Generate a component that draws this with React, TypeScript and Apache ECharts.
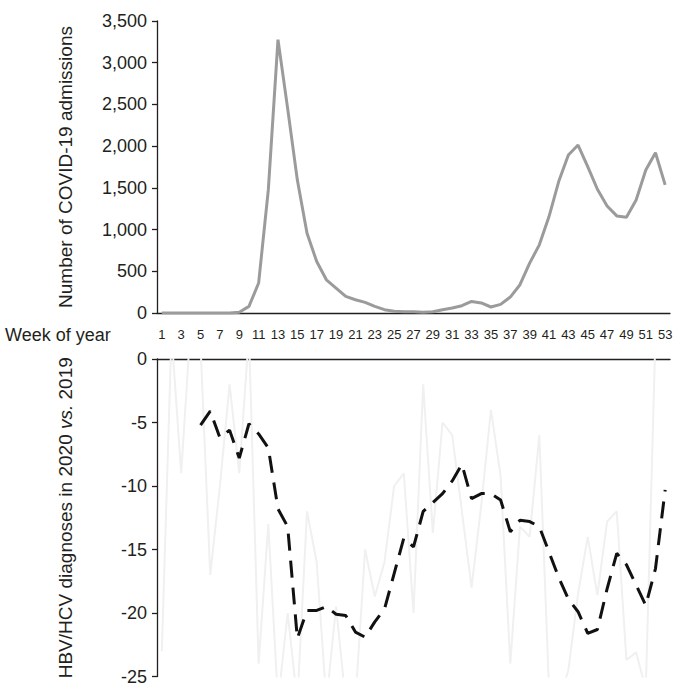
import React, { useEffect, useRef } from "react";
import * as echarts from "echarts";

const weeks = [
  "1","2","3","4","5","6","7","8","9","10","11","12","13","14","15","16","17","18",
  "19","20","21","22","23","24","25","26","27","28","29","30","31","32","33","34","35","36",
  "37","38","39","40","41","42","43","44","45","46","47","48","49","50","51","52","53",
];

const covidAdmissions = [
  0, 0, 0, 0, 0, 0, 0, 0, 10, 79, 359, 1475, 3277, 2450, 1593, 957, 617, 398,
  299, 199, 159, 127, 79, 40, 20, 15, 15, 10, 15, 40, 60, 87, 139, 120, 72, 103,
  191, 339, 598, 817, 1156, 1575, 1894, 2013, 1754, 1483, 1283, 1164, 1148, 1355, 1714, 1921, 1535,
];

const weeklyChange = [
  -23, 2, -9, 3, 1, -17, -10, -2, -9, 2, -24, -13, -27, -20, -27, -12, -16, -27,
  -19.5, -27, -27, -15, -18.7, -16, -10, -9, -20, -2, -13.7, -5, -6, -12, -18, -11.5, -4, -9.2,
  -24, -13.2, -14, -6, -26, -27, -24.5, -18.5, -14, -18.6, -12.8, -12, -23.7, -23.1, -26, 2, 10,
];

const movingAverage = [
  null, null, null, null, -5.2, -4.1, -6.2, -5.6, -7.8, -5.1, -5.9, -7.0, -11.8, -13.2, -22.0, -19.8, -19.8, -19.5,
  -20.1, -20.2, -21.5, -21.9, -20.7, -19.7, -16.9, -14.1, -14.8, -12.0, -11.3, -10.6, -9.6, -8.3, -11.0, -10.6, -10.6, -11.1,
  -13.6, -12.7, -12.8, -13.2, -15.2, -17.2, -18.9, -19.9, -21.6, -21.3, -18.1, -15.3, -16.2, -17.8, -19.4, -16.5, -10.3,
];

const FONT = "'Liberation Sans', Arial, sans-serif";
const AXIS_COLOR = "#231f20";
const TEXT_COLOR = "#231f20";

export default function App() {
  const ref = useRef<HTMLDivElement>(null);

  useEffect(() => {
    document.body.style.margin = "0";
    if (!ref.current) return;
    const chart = echarts.init(ref.current, null, { renderer: "svg" });
    const axisLine = { show: true, onZero: false, lineStyle: { color: AXIS_COLOR, width: 1.3 } };
    chart.setOption({
      animation: false,
      backgroundColor: "#ffffff",
      textStyle: { fontFamily: FONT },
      grid: [
        { left: 157, right: 22, top: 21, height: 292 },
        { left: 157, right: 22, top: 359, height: 317.5 },
      ],
      xAxis: [
        {
          type: "category",
          gridIndex: 0,
          data: weeks,
          boundaryGap: true,
          position: "bottom",
          axisLine,
          axisTick: { show: false },
          axisLabel: {
            interval: 1,
            margin: 15,
            fontSize: 13,
            color: TEXT_COLOR,
            fontFamily: FONT,
          },
          splitLine: { show: false },
        },
        {
          type: "category",
          gridIndex: 1,
          data: weeks,
          boundaryGap: true,
          position: "top",
          axisLine,
          axisTick: { show: false },
          axisLabel: { show: false },
          splitLine: { show: false },
        },
      ],
      yAxis: [
        {
          type: "value",
          gridIndex: 0,
          min: 0,
          max: 3500,
          interval: 500,
          axisLine,
          axisTick: { show: true, length: 5, lineStyle: { color: AXIS_COLOR, width: 1.3 } },
          axisLabel: {
            margin: 10,
            fontSize: 18,
            color: TEXT_COLOR,
            fontFamily: FONT,
            formatter: (v: number) => v.toLocaleString("en-US"),
          },
          splitLine: { show: false },
          name: "Number of COVID-19 admissions",
          nameLocation: "middle",
          nameGap: 82,
          nameTextStyle: { fontSize: 19, color: TEXT_COLOR, fontFamily: FONT },
        },
        {
          type: "value",
          gridIndex: 1,
          min: -25,
          max: 0,
          interval: 5,
          axisLine,
          axisTick: { show: true, length: 5, lineStyle: { color: AXIS_COLOR, width: 1.3 } },
          axisLabel: {
            margin: 10,
            fontSize: 18,
            color: TEXT_COLOR,
            fontFamily: FONT,
          },
          splitLine: { show: false },
          name: "HBV/HCV diagnoses in 2020 {i|vs.} 2019",
          nameLocation: "middle",
          nameGap: 82,
          nameTextStyle: {
            fontSize: 19,
            color: TEXT_COLOR,
            fontFamily: FONT,
            rich: { i: { fontSize: 19, fontStyle: "italic", color: TEXT_COLOR, fontFamily: FONT } },
          },
        },
      ],
      graphic: [
        {
          type: "text",
          left: 5,
          top: 326,
          style: { text: "Week of year", fontSize: 18, fill: TEXT_COLOR, fontFamily: FONT },
        },
      ],
      series: [
        {
          type: "line",
          xAxisIndex: 0,
          yAxisIndex: 0,
          data: covidAdmissions,
          symbol: "none",
          lineStyle: { color: "#9b9b9b", width: 3 },
        },
        {
          type: "line",
          xAxisIndex: 1,
          yAxisIndex: 1,
          data: weeklyChange,
          symbol: "none",
          clip: true,
          lineStyle: { color: "#f0f0f0", width: 2 },
        },
        {
          type: "line",
          xAxisIndex: 1,
          yAxisIndex: 1,
          data: movingAverage,
          symbol: "none",
          connectNulls: false,
          lineStyle: { color: "#111111", width: 3, type: [17, 10] },
        },
      ],
    });
    return () => chart.dispose();
  }, []);

  return <div ref={ref} style={{ width: 692, height: 696 }} />;
}
